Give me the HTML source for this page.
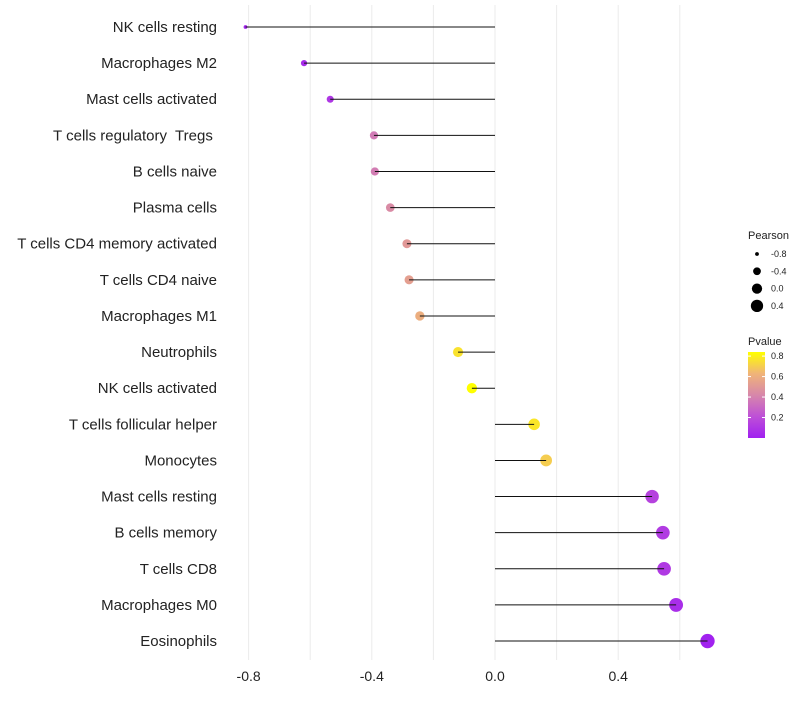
<!DOCTYPE html>
<html><head><meta charset="utf-8"><style>
body{margin:0;background:#fff;}
svg{font-family:"Liberation Sans",sans-serif;}
text{white-space:pre;}
</style></head><body>
<svg id="c" width="800" height="700"></svg>
<script>
const categories=["NK cells resting","Macrophages M2","Mast cells activated","T cells regulatory  Tregs ","B cells naive","Plasma cells","T cells CD4 memory activated","T cells CD4 naive","Macrophages M1","Neutrophils","NK cells activated","T cells follicular helper","Monocytes","Mast cells resting","B cells memory","T cells CD8","Macrophages M0","Eosinophils"];
const pearson=[-0.81,-0.62,-0.535,-0.393,-0.39,-0.34,-0.286,-0.279,-0.244,-0.12,-0.075,0.127,0.166,0.51,0.545,0.549,0.588,0.69];
const pvalue=[0.02,0.05,0.1,0.37,0.38,0.44,0.5,0.53,0.6,0.76,0.84,0.77,0.7,0.15,0.12,0.11,0.06,0.01];
const xTicks=[-0.8,-0.4,0.0,0.4];
const xGrid=[-0.8,-0.6,-0.4,-0.2,0,0.2,0.4,0.6];
const sizeLegend=[-0.8,-0.4,0.0,0.4];
const pTicks=[0.2,0.4,0.6,0.8];
const NS="http://www.w3.org/2000/svg";
const svg=document.getElementById('c');
function mk(t,a,p){const e=document.createElementNS(NS,t);for(const k in a)e.setAttribute(k,a[k]);(p||svg).appendChild(e);return e;}
const X=v=>495+v*308;
const Y=i=>27+i*36.12;
const R=v=>Math.sqrt(Math.max(1,4+(v+0.8)*31.7));
function col(p){const t=Math.max(0,Math.min(1,p/0.84));
 const stops=[[0,[160,32,240]],[0.25,[190,80,215]],[0.5,[215,135,170]],[0.75,[240,180,120]],[1,[255,255,0]]];
 let i=0;while(i<stops.length-2&&t>stops[i+1][0])i++;
 const a=stops[i],b=stops[i+1];
 const u=(t-a[0])/(b[0]-a[0]);
 const c=a[1].map((v,k)=>Math.round(v+(b[1][k]-v)*u));return `rgb(${c})`;}
xGrid.forEach(v=>{const l=mk('line',{x1:X(v),x2:X(v),y1:5,y2:660,stroke:'#ebebeb','stroke-width':1});

});
xTicks.forEach(v=>{const t=mk('text',{x:X(v),y:681,'text-anchor':'middle','font-size':14,fill:'#222'});t.textContent=v.toFixed(1);

});
categories.forEach((c,i)=>{
 const t=mk('text',{x:217,y:Y(i)+5,'text-anchor':'end','font-size':15,fill:'#222'});t.textContent=c;
 
 
 const d=mk('circle',{cx:X(pearson[i]),cy:Y(i),r:R(pearson[i]),fill:col(pvalue[i])});
 
 
 const l=mk('line',{x1:X(0),x2:X(pearson[i]),y1:Y(i),y2:Y(i),stroke:'#111','stroke-width':1});
 
 
});
let t=mk('text',{x:748,y:239,'font-size':11,fill:'#222'});t.textContent='Pearson';


sizeLegend.forEach((v,i)=>{const y=254+i*17.3;
 const c=mk('circle',{cx:757,cy:y,r:R(v)*0.95,fill:'#000'});
 
 
 const s=mk('text',{x:771,y:y+3,'font-size':9,fill:'#222'});s.textContent=v.toFixed(1);
 
 });
t=mk('text',{x:748,y:345,'font-size':11,fill:'#222'});t.textContent='Pvalue';


const defs=mk('defs',{});const g=mk('linearGradient',{id:'pg',x1:0,y1:1,x2:0,y2:0},defs);
[0,0.25,0.5,0.75,1].forEach(o=>mk('stop',{offset:o,'stop-color':col(o*0.84)},g));
const bar=mk('rect',{x:748,y:352,width:17,height:86,fill:'url(#pg)'});


pTicks.forEach(p=>{const y=438-p/0.84*86;
 mk('line',{x1:748,x2:751,y1:y,y2:y,stroke:'#fff'});mk('line',{x1:762,x2:765,y1:y,y2:y,stroke:'#fff'});
 const s=mk('text',{x:771,y:y+3,'font-size':9,fill:'#222'});s.textContent=p.toFixed(1);
 
 });
</script>
</body></html>
